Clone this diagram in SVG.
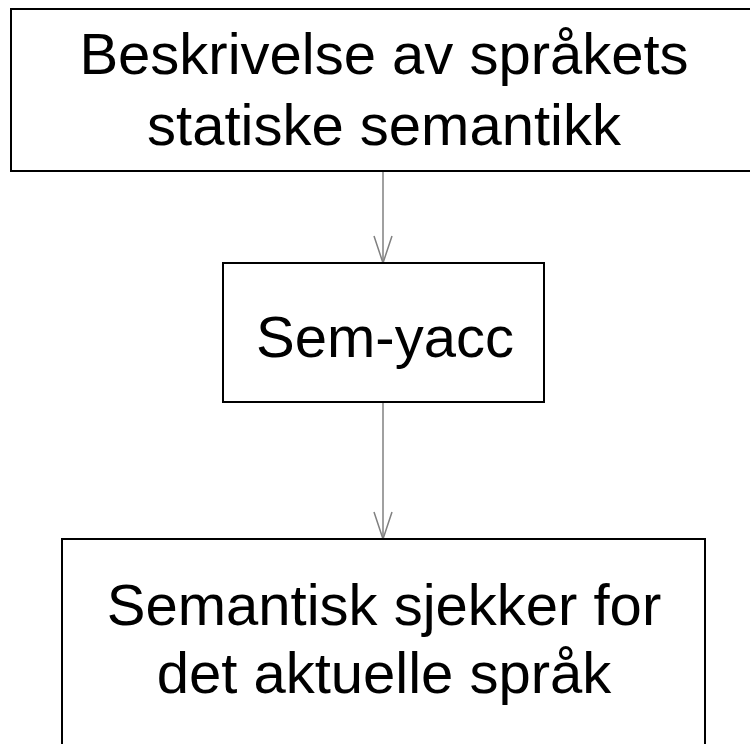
<svg xmlns="http://www.w3.org/2000/svg" width="750" height="744" viewBox="0 0 750 744">
<style>
.box{fill:#fff;stroke:#000;stroke-width:2}
.t{font-family:"Liberation Sans",Arial,sans-serif;font-size:58px;fill:#000;text-anchor:middle}
.c{stroke:#808080;stroke-width:1.5;fill:none}
</style>
<defs>
<marker id="v" viewBox="0 -10 30 20" refX="28" refY="0" markerWidth="30" markerHeight="20" markerUnits="userSpaceOnUse" orient="auto">
<path d="M1,-9 L28,0 L1,9" fill="none" stroke="#808080" stroke-width="1.5"/>
</marker>
</defs>
<g id="connectors">
<line class="c" x1="383" y1="171" x2="383" y2="263" marker-end="url(#v)"/>
<line class="c" x1="383" y1="402" x2="383" y2="539" marker-end="url(#v)"/>
</g>
<g id="n1">
<rect class="box" x="11" y="9" width="740" height="162"/>
<text class="t" x="384" y="74">Beskrivelse av språkets</text>
<text class="t" x="384" y="145">statiske semantikk</text>
</g>
<g id="n2">
<rect class="box" x="223" y="263" width="321" height="139"/>
<text class="t" x="385" y="357">Sem-yacc</text>
</g>
<g id="n3">
<rect class="box" x="62" y="539" width="643" height="220"/>
<text class="t" x="384" y="625">Semantisk sjekker for</text>
<text class="t" x="384" y="693">det aktuelle språk</text>
</g>
</svg>
